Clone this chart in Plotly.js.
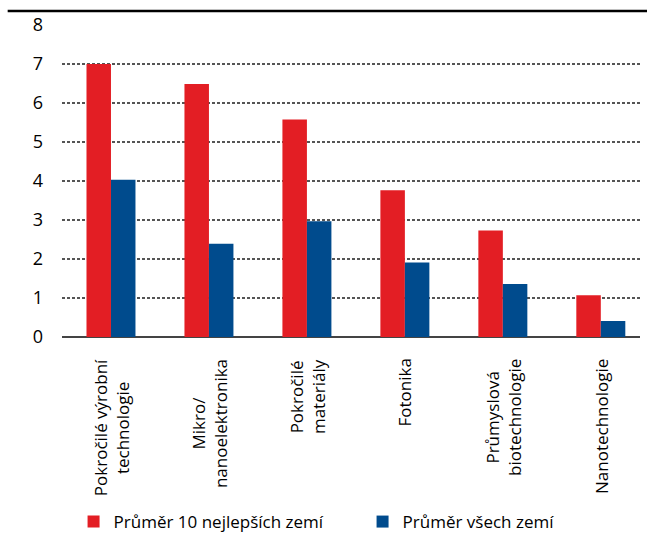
<!DOCTYPE html>
<html><head><meta charset="utf-8">
<script src="https://cdn.plot.ly/plotly-3.0.1.min.js"></script>
<style>html,body{margin:0;padding:0;background:#fff}</style>
</head><body><div id="chart" style="width:647px;height:548px"></div>
<script>
const categories = ["Pokročilé výrobní<br>technologie","Mikro/<br>nanoelektronika","Pokročilé<br>materiály","Fotonika","Průmyslová<br>biotechnologie","Nanotechnologie"];
const top10 = [7.0, 6.49, 5.58, 3.76, 2.73, 1.07];
const allCountries = [4.03, 2.39, 2.97, 1.91, 1.36, 0.41];
const seriesNames = ["Průměr 10 nejlepších zemí","Průměr všech zemí"];
const yTicks = [0,1,2,3,4,5,6,7,8];

const FONT = "Open Sans, sans-serif";
const traces = [
  {type:"bar", x:categories, y:top10, name:seriesNames[0], marker:{color:"#E31E24"}},
  {type:"bar", x:categories, y:allCountries, name:seriesNames[1], marker:{color:"#004B8D"}}
];
const annotations = categories.map(c => ({
  x:c, xref:"x", y:-0.063, yref:"paper", text:c, showarrow:false,
  textangle:-90, xanchor:"center", yanchor:"top", align:"center",
  font:{family:FONT, size:17, color:"#000"}
}));
const layout = {
  width:647, height:548,
  margin:{l:62, r:7, t:25, b:211, autoexpand:false},
  paper_bgcolor:"#fff", plot_bgcolor:"#fff",
  font:{family:FONT, size:17, color:"#000"},
  barmode:"group", bargap:0.5, bargroupgap:0,
  showlegend:true,
  legend:{orientation:"h", x:0.02, xanchor:"left", y:-0.593, yanchor:"middle",
          entrywidth:244, entrywidthmode:"pixels", font:{family:FONT, size:17, color:"#000"}},
  xaxis:{range:[-0.5,5.4], showticklabels:false, showgrid:false, zeroline:false,
         showline:false, ticks:""},
  yaxis:{range:[0,8], tickvals:yTicks, ticktext:yTicks.map(String), showgrid:true,
         gridcolor:"#555", griddash:"3px,2px", gridwidth:1.2, zeroline:true, zerolinecolor:"#444",
         zerolinewidth:1.5, showline:false, ticks:"", ticklabelstandoff:18,
         tickfont:{family:FONT, size:18, color:"#000"}},
  shapes:[{type:"line", xref:"paper", yref:"paper", x0:-0.094, x1:1.02, y0:1.045, y1:1.045,
           line:{color:"#000", width:2.5}}],
  annotations:annotations
};
Plotly.newPlot("chart", traces, layout, {displayModeBar:false, staticPlot:true});
</script></body></html>
